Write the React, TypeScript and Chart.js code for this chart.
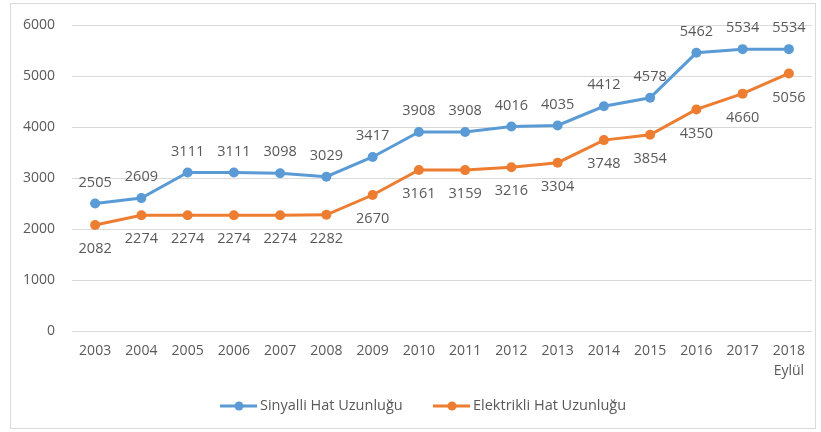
import React, { useEffect, useRef } from "react";
import { Chart, registerables } from "chart.js";

Chart.register(...registerables);

const categories: (string | string[])[] = [
  "2003", "2004", "2005", "2006", "2007", "2008", "2009", "2010",
  "2011", "2012", "2013", "2014", "2015", "2016", "2017", ["2018", "Eylül"],
];
const sinyalli = [2505, 2609, 3111, 3111, 3098, 3029, 3417, 3908, 3908, 4016, 4035, 4412, 4578, 5462, 5534, 5534];
const elektrikli = [2082, 2274, 2274, 2274, 2274, 2282, 2670, 3161, 3159, 3216, 3304, 3748, 3854, 4350, 4660, 5056];
const seriesNames = ["Sinyalli Hat Uzunluğu", "Elektrikli Hat Uzunluğu"];
const seriesColors = ["#5B9BD5", "#ED7D31"];
const yTicks = [0, 1000, 2000, 3000, 4000, 5000, 6000];

const FONT = "'Open Sans', 'Noto Sans', sans-serif";
const TEXT = "#595959";

export default function App() {
  const ref = useRef<HTMLCanvasElement | null>(null);
  useEffect(() => {
    if (!ref.current) return;
    const labelOffsets = [-21, 24];
    const labelPlugin = {
      id: "valueLabels",
      afterDatasetsDraw(chart: any) {
        const ctx = chart.ctx;
        ctx.save();
        ctx.font = `14.5px ${FONT}`;
        ctx.fillStyle = TEXT;
        ctx.textAlign = "center";
        ctx.textBaseline = "middle";
        chart.data.datasets.forEach((ds: any, di: number) => {
          const meta = chart.getDatasetMeta(di);
          meta.data.forEach((pt: any, i: number) => {
            ctx.fillText(String(ds.data[i]), pt.x, pt.y + labelOffsets[di]);
          });
        });
        ctx.restore();
      },
    };
    const framePlugin = {
      id: "frame",
      beforeDraw(chart: any) {
        const ctx = chart.ctx;
        ctx.save();
        ctx.fillStyle = "#ffffff";
        ctx.fillRect(0, 0, chart.width, chart.height);
        ctx.strokeStyle = "#d9d9d9";
        ctx.lineWidth = 1;
        ctx.strokeRect(10.5, 3.5, 805, 425);
        ctx.restore();
      },
    };
    const legendPlugin = {
      id: "customLegend",
      afterDraw(chart: any) {
        const ctx = chart.ctx;
        ctx.save();
        ctx.font = `14.5px ${FONT}`;
        ctx.textBaseline = "middle";
        ctx.textAlign = "left";
        const y = 406;
        const starts = [220, 433];
        seriesNames.forEach((name, i) => {
          const x0 = starts[i];
          ctx.strokeStyle = seriesColors[i];
          ctx.lineWidth = 3;
          ctx.beginPath();
          ctx.moveTo(x0, y);
          ctx.lineTo(x0 + 37, y);
          ctx.stroke();
          ctx.fillStyle = seriesColors[i];
          ctx.beginPath();
          ctx.arc(x0 + 19, y, 4.5, 0, Math.PI * 2);
          ctx.fill();
          ctx.fillStyle = TEXT;
          ctx.fillText(name, x0 + 40, y);
        });
        ctx.restore();
      },
    };
    const chart = new Chart(ref.current, {
      type: "line",
      data: {
        labels: categories,
        datasets: [sinyalli, elektrikli].map((d, i) => ({
          label: seriesNames[i],
          data: d,
          borderColor: seriesColors[i],
          backgroundColor: seriesColors[i],
          borderWidth: 3,
          pointRadius: 5,
          pointHoverRadius: 5,
          pointBackgroundColor: seriesColors[i],
          pointBorderWidth: 0,
          tension: 0,
          fill: false,
        })),
      },
      options: {
        responsive: false,
        animation: false,
        layout: { padding: { top: 23, right: 9, bottom: 0, left: 0 } },
        plugins: {
          legend: { display: false },
          tooltip: { enabled: false },
        },
        scales: {
          x: {
            offset: true,
            grid: { display: false, drawTicks: false },
            border: { display: false },
            ticks: {
              color: TEXT,
              font: { family: FONT, size: 14, lineHeight: 1.43 },
              padding: 10,
              maxRotation: 0,
              autoSkip: false,
            },
            afterFit(scale: any) {
              scale.height = 101;
            },
          },
          y: {
            min: 0,
            max: 6000,
            afterBuildTicks(scale: any) {
              scale.ticks = yTicks.map((v) => ({ value: v }));
            },
            grid: { color: "#d9d9d9", lineWidth: 1, drawTicks: false },
            border: { display: false },
            ticks: {
              color: TEXT,
              font: { family: FONT, size: 14 },
              padding: 17,
              callback: (v: any) => String(v),
            },
            afterFit(scale: any) {
              scale.width = 72;
            },
          },
        },
      },
      plugins: [framePlugin, labelPlugin, legendPlugin],
    });
    return () => chart.destroy();
  }, []);
  return (
    <canvas
      ref={ref}
      width={821}
      height={432}
      style={{ position: "absolute", left: 0, top: 0, display: "block" }}
    />
  );
}
